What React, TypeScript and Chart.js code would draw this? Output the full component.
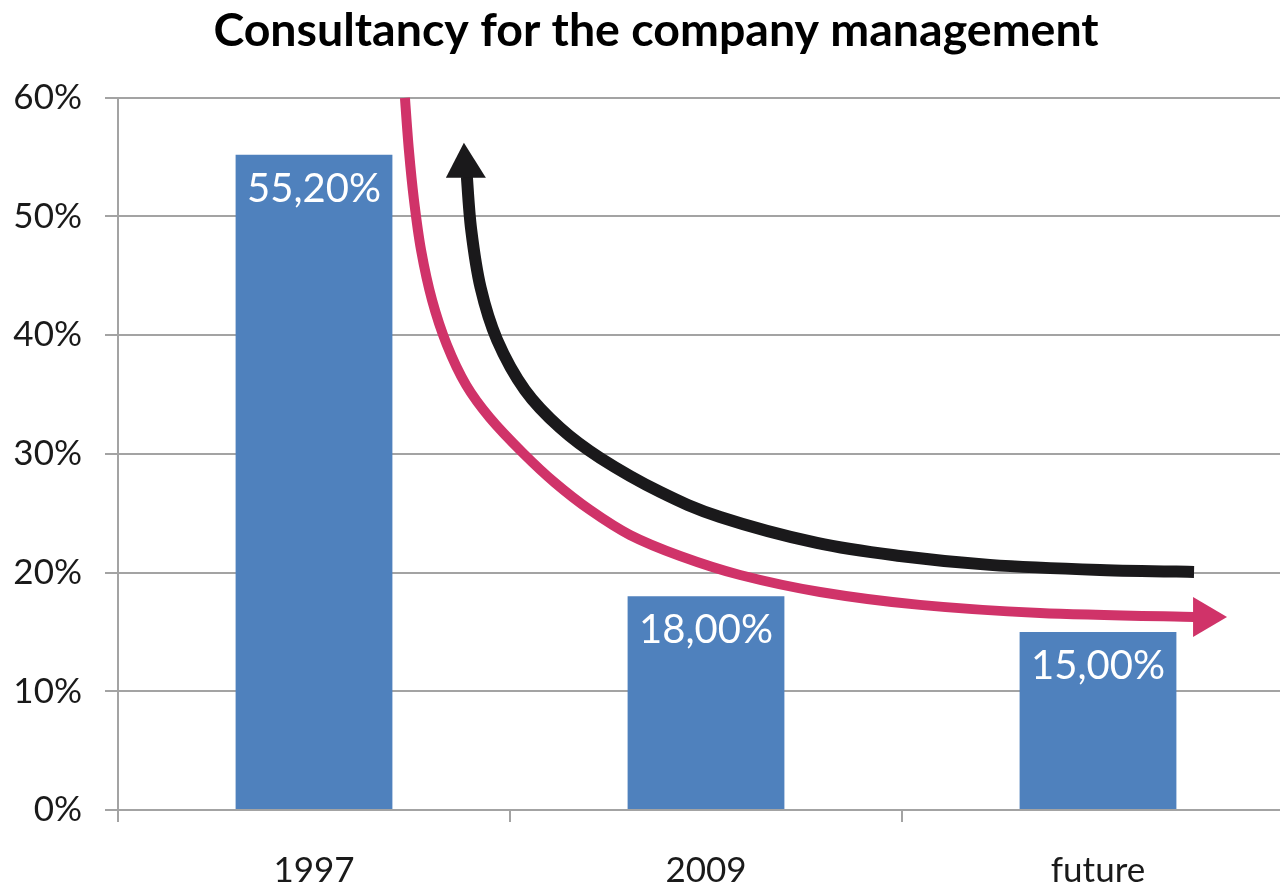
import React, { useEffect, useRef } from "react";
import { Chart, registerables } from "chart.js";

Chart.register(...registerables);

const TITLE = "Consultancy for the company management";
const categories = ["1997", "2009", "future"];
const shareValues = [55.2, 18.0, 15.0];
const yTicks = [0, 10, 20, 30, 40, 50, 60];

// Decorative trend arrows, in data units (x: category index, y: percent)
const pinkArrowX = [0.232, 0.242, 0.255, 0.273, 0.301, 0.339, 0.388, 0.449, 0.533, 0.615, 0.704, 0.806, 0.934, 1.087, 1.291, 1.546, 1.852, 2.245];
const pinkArrowY = [60.0, 55.62, 51.4, 47.19, 42.98, 39.19, 35.81, 33.03, 30.08, 27.56, 25.28, 23.17, 21.4, 19.8, 18.37, 17.28, 16.6, 16.26];
const blackArrowX = [0.39, 0.401, 0.425, 0.467, 0.538, 0.628, 0.73, 0.883, 1.036, 1.283, 1.495, 1.724, 2.005, 2.245];
const blackArrowY = [53.34, 48.88, 44.0, 39.61, 35.39, 32.19, 29.66, 26.8, 24.69, 22.5, 21.4, 20.65, 20.22, 20.06];

const FONT = "Lato, 'Open Sans', sans-serif";
const GRID = "#a3a3a3";
const TEXT = "#1a1a1a";
const PINK = "#d03369";
const BLACK = "#1a191b";

const fmt = (v: number) => v.toFixed(2).replace(".", ",") + "%";

const dataLabelPlugin = {
  id: "dataLabels",
  afterDatasetsDraw(chart: any) {
    const ctx = chart.ctx;
    const meta = chart.getDatasetMeta(0);
    ctx.save();
    ctx.fillStyle = "#ffffff";
    ctx.font = `40px ${FONT}`;
    ctx.textAlign = "center";
    ctx.textBaseline = "middle";
    meta.data.forEach((bar: any, i: number) => {
      ctx.fillText(fmt(shareValues[i]), bar.x, bar.y + 34);
    });
    ctx.restore();
  },
};

function smoothPath(ctx: CanvasRenderingContext2D, pts: { x: number; y: number }[]) {
  ctx.moveTo(pts[0].x, pts[0].y);
  for (let i = 0; i < pts.length - 1; i++) {
    const p0 = pts[i - 1] || pts[i];
    const p1 = pts[i];
    const p2 = pts[i + 1];
    const p3 = pts[i + 2] || p2;
    const c1x = p1.x + (p2.x - p0.x) / 6;
    const c1y = p1.y + (p2.y - p0.y) / 6;
    const c2x = p2.x - (p3.x - p1.x) / 6;
    const c2y = p2.y - (p3.y - p1.y) / 6;
    ctx.bezierCurveTo(c1x, c1y, c2x, c2y, p2.x, p2.y);
  }
}

const arrowPlugin = {
  id: "trendArrows",
  afterDatasetsDraw(chart: any) {
    const { ctx, scales } = chart;
    const xs = scales.x;
    const ys = scales.y;
    const toPx = (xv: number[], yv: number[]) =>
      xv.map((x, i) => ({ x: xs.getPixelForValue(x), y: ys.getPixelForValue(yv[i]) }));
    const pink = toPx(pinkArrowX, pinkArrowY);
    const black = toPx(blackArrowX, blackArrowY);
    ctx.save();
    ctx.lineCap = "butt";
    ctx.lineJoin = "round";
    // pink curve
    ctx.strokeStyle = PINK;
    ctx.lineWidth = 10;
    ctx.beginPath();
    smoothPath(ctx, pink);
    ctx.stroke();
    const pe = pink[pink.length - 1];
    ctx.fillStyle = PINK;
    ctx.beginPath();
    ctx.moveTo(pe.x - 1, pe.y - 20);
    ctx.lineTo(pe.x + 33, pe.y);
    ctx.lineTo(pe.x - 1, pe.y + 20);
    ctx.closePath();
    ctx.fill();
    // black curve
    ctx.strokeStyle = BLACK;
    ctx.lineWidth = 12;
    ctx.beginPath();
    smoothPath(ctx, black);
    ctx.stroke();
    const bs = black[0];
    ctx.fillStyle = BLACK;
    ctx.beginPath();
    ctx.moveTo(bs.x - 21, bs.y + 1);
    ctx.lineTo(bs.x - 3, bs.y - 34);
    ctx.lineTo(bs.x + 19, bs.y + 1);
    ctx.closePath();
    ctx.fill();
    ctx.restore();
  },
};

export default function App() {
  const ref = useRef<HTMLCanvasElement | null>(null);
  useEffect(() => {
    if (!ref.current) return;
    const chart = new Chart(ref.current, {
      type: "bar",
      data: {
        labels: categories,
        datasets: [
          {
            data: shareValues,
            backgroundColor: "#4f81bd",
            borderWidth: 0,
            categoryPercentage: 1,
            barPercentage: 0.4,
          },
        ],
      },
      options: {
        responsive: false,
        maintainAspectRatio: false,
        animation: false,
        devicePixelRatio: 1,
        layout: { padding: { left: 18, right: 18, top: 0, bottom: 0 } },
        plugins: {
          legend: { display: false },
          tooltip: { enabled: false },
          title: {
            display: true,
            text: TITLE,
            color: "#000000",
            font: { family: FONT, size: 46.5, weight: "bold", lineHeight: 1.2 },
            padding: { top: 3, bottom: 39 },
          },
        },
        scales: {
          x: {
            type: "category",
            offset: true,
            afterFit(scale: any) {
              scale.height = 80;
            },
            grid: {
              display: true,
              drawOnChartArea: false,
              drawTicks: true,
              tickLength: 12,
              color: GRID,
              lineWidth: 2,
              offset: true,
            },
            border: { display: true, color: GRID, width: 2 },
            ticks: {
              color: TEXT,
              font: { family: FONT, size: 35 },
              padding: 28,
              maxRotation: 0,
            },
          },
          y: {
            min: 0,
            max: 60,
            afterFit(scale: any) {
              scale.width = 100;
              scale._computeLabelArea = () => undefined;
            },
            afterBuildTicks(scale: any) {
              scale.ticks = yTicks.map((v) => ({ value: v }));
            },
            grid: {
              color: GRID,
              lineWidth: 2,
              drawTicks: true,
              tickLength: 13,
            },
            border: { display: true, color: GRID, width: 2 },
            ticks: {
              color: TEXT,
              font: { family: FONT, size: 35 },
              padding: 23,
              callback: (v: any) => v + "%",
            },
          },
        },
      },
      plugins: [dataLabelPlugin, arrowPlugin],
    } as any);
    return () => chart.destroy();
  }, []);
  return (
    <div
      style={{
        position: "fixed",
        left: 0,
        top: 0,
        width: 1280,
        height: 890,
        overflow: "hidden",
        background: "#ffffff",
      }}
    >
      <canvas ref={ref} width={1312} height={890} style={{ display: "block", width: 1312, height: 890 }} />
    </div>
  );
}
